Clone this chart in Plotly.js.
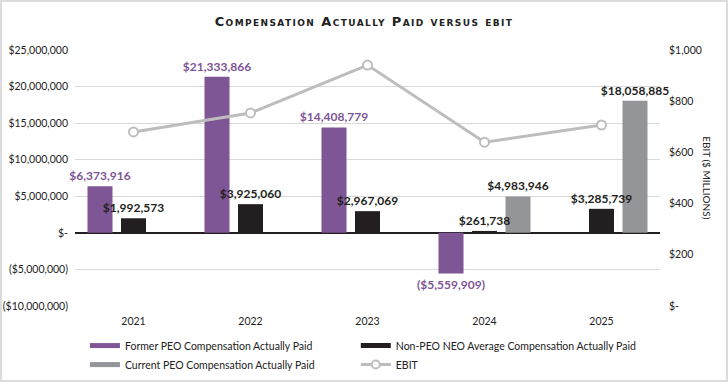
<!DOCTYPE html>
<html>
<head>
<meta charset="utf-8">
<script src="https://cdn.plot.ly/plotly-3.0.1.min.js"></script>
<style>
  html, body { margin: 0; padding: 0; background: #fff; }
  #wrap { position: relative; width: 728px; height: 382px; }
  #chart { width: 728px; height: 382px; }
  #frame { position: absolute; left: 0; top: 0; width: 724px; height: 378px; border: 2px solid #dcdcdc; pointer-events: none; }
  #chart .gtitle { letter-spacing: 1.4px; }
</style>
</head>
<body>
<div id="wrap"><div id="chart"></div><div id="frame"></div></div>
<script>
// ---- data ----
const years = ['2021', '2022', '2023', '2024', '2025'];
const formerPeoCap = [6373916, 21333866, 14408779, -5559909, null];
const nonPeoNeoAvgCap = [1992573, 3925060, 2967069, 261738, 3285739];
const currentPeoCap = [null, null, null, 4983946, 18058885];
const ebitMillions = [680, 754, 941, 640, 707];

const leftTickVals = [-10000000, -5000000, 0, 5000000, 10000000, 15000000, 20000000, 25000000];
const leftTickText = ['($10,000,000)', '($5,000,000)', '$-', '$5,000,000', '$10,000,000', '$15,000,000', '$20,000,000', '$25,000,000'];
const rightTickVals = [0, 200, 400, 600, 800, 1000];
const rightTickText = ['$-', '$200', '$400', '$600', '$800', '$1,000'];

// ---- styling ----
const PURPLE = '#7E5595';
const BLACK = '#231F20';
const GRAY = '#939598';
const LINEGRAY = '#BDBDBD';
const FONT = 'Lato, "Open Sans", sans-serif';

// grouped-bar geometry (category units): 3 slots per year
const SLOT = 0.2863, BARW = 0.2137;

function money(v) {
  if (v === null || v === undefined) return '';
  const s = '$' + Math.abs(v).toLocaleString('en-US');
  return v < 0 ? '(' + s + ')' : s;
}

const barCommon = {
  type: 'bar',
  textposition: 'outside',
  cliponaxis: false,
  constraintext: 'none',
  hoverinfo: 'skip',
  showlegend: false,
  width: BARW
};

// drawn gray -> purple -> black so every value label sits on top of neighbouring bars
const traces = [
  Object.assign({}, barCommon, {
    name: 'Current PEO Compensation Actually Paid',
    x: years, y: currentPeoCap,
    offset: SLOT - BARW / 2,
    text: currentPeoCap.map(money),
    marker: { color: GRAY },
    textfont: { family: FONT, size: 12, color: BLACK, weight: 'bold' }
  }),
  Object.assign({}, barCommon, {
    name: 'Former PEO Compensation Actually Paid',
    x: years, y: formerPeoCap,
    offset: -SLOT - BARW / 2,
    text: formerPeoCap.map(money),
    marker: { color: PURPLE },
    textfont: { family: FONT, size: 12, color: PURPLE, weight: 'bold' }
  }),
  Object.assign({}, barCommon, {
    name: 'Non-PEO NEO Average Compensation Actually Paid',
    x: years, y: nonPeoNeoAvgCap,
    offset: -BARW / 2,
    text: nonPeoNeoAvgCap.map(money),
    marker: { color: BLACK },
    textfont: { family: FONT, size: 12, color: BLACK, weight: 'bold' }
  }),
  {
    type: 'scatter', mode: 'lines+markers', name: 'EBIT',
    x: years, y: ebitMillions, yaxis: 'y2',
    line: { color: LINEGRAY, width: 3 },
    marker: { size: 9, color: '#ffffff', line: { color: LINEGRAY, width: 2 } },
    cliponaxis: false, hoverinfo: 'skip', showlegend: false
  },
  // legend entries (wide swatches like the original)
  { type: 'scatter', mode: 'lines', x: [null], y: [null], name: 'Former PEO Compensation Actually Paid',
    line: { color: PURPLE, width: 5 }, legend: 'legend' },
  { type: 'scatter', mode: 'lines', x: [null], y: [null], name: 'Current PEO Compensation Actually Paid',
    line: { color: GRAY, width: 5 }, legend: 'legend' },
  { type: 'scatter', mode: 'lines', x: [null], y: [null], name: 'Non-PEO NEO Average Compensation Actually Paid',
    line: { color: BLACK, width: 5 }, legend: 'legend2' },
  { type: 'scatter', mode: 'lines+markers', x: [null], y: [null], name: 'EBIT', yaxis: 'y2',
    line: { color: LINEGRAY, width: 3 },
    marker: { size: 8, color: '#ffffff', line: { color: LINEGRAY, width: 2 } }, legend: 'legend2' }
];

const legendCommon = {
  orientation: 'v', yanchor: 'top', xanchor: 'left',
  bgcolor: 'rgba(0,0,0,0)', borderwidth: 0, tracegroupgap: 0,
  font: { family: FONT, size: 10.5, color: '#222' }
};

const layout = {
  width: 728, height: 382,
  margin: { l: 75, r: 68, t: 50, b: 76, autoexpand: false },
  paper_bgcolor: '#ffffff', plot_bgcolor: '#ffffff',
  font: { family: FONT, size: 10.5, color: '#222' },
  title: {
    text: 'Compensation Actually Paid versus ebit',
    x: 0.5, xanchor: 'center', y: 0.945, yanchor: 'middle',
    font: { family: '"DejaVu Sans", Lato, sans-serif', size: 13, color: '#222', weight: 'bold', variant: 'small-caps' }
  },
  barmode: 'overlay',
  showlegend: true,
  xaxis: {
    type: 'category', showgrid: false, showline: false, zeroline: false,
    ticks: '', ticklabelstandoff: 7,
    tickfont: { family: FONT, size: 10.5, color: '#222' }
  },
  yaxis: {
    range: [-10000000, 25000000], tickvals: leftTickVals, ticktext: leftTickText,
    showgrid: true, gridcolor: '#D9D9D9', gridwidth: 1,
    zeroline: true, zerolinecolor: BLACK, zerolinewidth: 1.5,
    showline: false, ticks: '', ticklabelstandoff: 6,
    tickfont: { family: FONT, size: 10.5, color: '#222' }
  },
  yaxis2: {
    overlaying: 'y', side: 'right', range: [0, 1000],
    tickvals: rightTickVals, ticktext: rightTickText,
    showgrid: false, zeroline: false, showline: false, ticks: '', ticklabelstandoff: 8,
    tickfont: { family: FONT, size: 10.5, color: '#222' }
  },
  legend: Object.assign({}, legendCommon, { x: 0.017, y: -0.098 }),
  legend2: Object.assign({}, legendCommon, { x: 0.48, y: -0.098 }),
  annotations: [{
    text: 'EBIT ($ MILLIONS)', xref: 'paper', yref: 'paper',
    x: 1.08, y: 0.5, xanchor: 'center', yanchor: 'middle', textangle: 90,
    showarrow: false, font: { family: FONT, size: 10, color: '#222' }
  }]
};

Plotly.newPlot('chart', traces, layout, { displayModeBar: false, staticPlot: true });
</script>
</body>
</html>
